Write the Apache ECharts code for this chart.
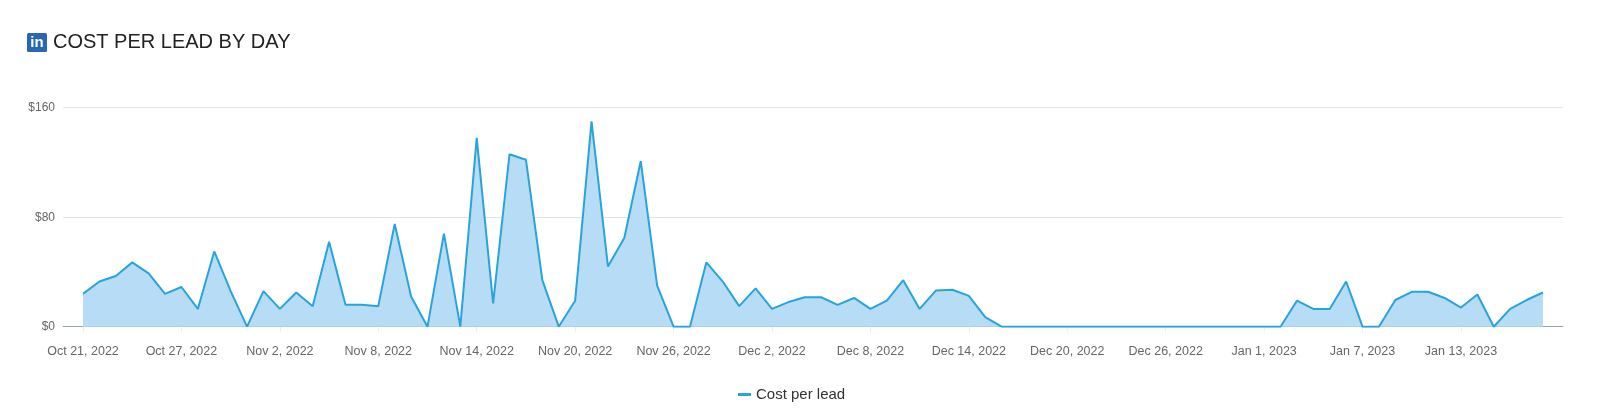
<!DOCTYPE html>
<html>
<head>
<meta charset="utf-8">
<script src="https://cdn.jsdelivr.net/npm/echarts@6/dist/echarts.min.js"></script>
<style>
  html, body { margin: 0; padding: 0; background: #fff; }
  #chart { width: 1600px; height: 412px; }
</style>
</head>
<body>
<div id="chart"></div>
<script>
// Day index 0 = Oct 21, 2022 ... 89 = Jan 18, 2023
const costPerLead = [
  24, 33, 37, 47, 39, 24, 29, 13, 55, 26,
  0, 26, 13, 25, 15, 62, 16, 16, 15, 75,
  22, 0, 68, 0, 138, 17, 126, 122, 34, 0,
  19, 150, 44, 65, 121, 30, 0, 0, 47, 33,
  15, 28, 13, 18, 21.5, 21.5, 16, 21, 13, 19,
  34, 13, 26.5, 27, 22.5, 7, 0, 0, 0, 0,
  0, 0, 0, 0, 0, 0, 0, 0, 0, 0,
  0, 0, 0, 0, 19, 13, 13, 33, 0, 0,
  19.5, 25.5, 25.5, 21, 14, 23.5, 0, 13, 19.5, 25
];
const dayIndex = costPerLead.map((_, i) => i);
const tickDays = [0, 6, 12, 18, 24, 30, 36, 42, 48, 54, 60, 66, 72, 78, 84];
const tickLabels = [
  'Oct 21, 2022', 'Oct 27, 2022', 'Nov 2, 2022', 'Nov 8, 2022', 'Nov 14, 2022',
  'Nov 20, 2022', 'Nov 26, 2022', 'Dec 2, 2022', 'Dec 8, 2022', 'Dec 14, 2022',
  'Dec 20, 2022', 'Dec 26, 2022', 'Jan 1, 2023', 'Jan 7, 2023', 'Jan 13, 2023'
];
const yTicks = [0, 80, 160];
const seriesName = 'Cost per lead';

const FONT = "'Liberation Sans', Arial, Helvetica, sans-serif";
const chart = echarts.init(document.getElementById('chart'), null, { renderer: 'canvas' });

chart.setOption({
  animation: false,
  backgroundColor: '#ffffff',
  title: {
    text: 'COST PER LEAD BY DAY',
    left: 53,
    top: 32,
    padding: 0,
    textStyle: { fontFamily: FONT, fontSize: 20, fontWeight: 'normal', color: '#222222', lineHeight: 20 }
  },
  graphic: [
    {
      type: 'rect',
      x: 27, y: 33,
      shape: { x: 0, y: 0, width: 20, height: 19, r: 1.5 },
      style: { fill: '#2867b2' }
    },
    {
      type: 'text',
      x: 37, y: 43,
      style: {
        text: 'in', fill: '#ffffff', font: "bold 15px " + FONT,
        textAlign: 'center', textVerticalAlign: 'middle'
      }
    }
  ],
  legend: {
    data: [seriesName],
    left: 733,
    top: 382,
    icon: 'rect',
    itemWidth: 13,
    itemHeight: 3,
    textStyle: { fontFamily: FONT, fontSize: 15, color: '#333333' }
  },
  grid: {
    left: 63,
    right: 37,
    top: 107.7,
    bottom: 85.3,
    containLabel: false
  },
  xAxis: {
    type: 'value',
    min: -1.22,
    max: 90.22,
    splitLine: { show: false },
    axisLine: { show: true, lineStyle: { color: '#97a3ab', width: 1 } },
    axisTick: {
      show: true,
      customValues: tickDays,
      length: 5,
      lineStyle: { color: '#ececec' }
    },
    axisLabel: {
      customValues: tickDays,
      margin: 18,
      fontFamily: FONT,
      fontSize: 12.5,
      color: '#666666',
      formatter: function (v) {
        const k = tickDays.indexOf(Math.round(v));
        return k >= 0 ? tickLabels[k] : '';
      }
    }
  },
  yAxis: {
    type: 'value',
    min: yTicks[0],
    max: yTicks[yTicks.length - 1],
    interval: 80,
    axisLine: { show: false },
    axisTick: { show: false },
    splitLine: { show: true, lineStyle: { color: '#e3e3e3', width: 1 } },
    axisLabel: {
      margin: 8,
      fontFamily: FONT,
      fontSize: 12,
      color: '#666666',
      formatter: function (v) { return '$' + v; }
    }
  },
  series: [
    {
      name: seriesName,
      type: 'line',
      data: dayIndex.map((d, i) => [d, costPerLead[i]]),
      symbol: 'none',
      showSymbol: false,
      lineStyle: { color: '#29a3dd', width: 2 },
      itemStyle: { color: '#29a3dd' },
      areaStyle: { color: '#b6ddf5', opacity: 1 },
      z: 3
    }
  ]
});
</script>
</body>
</html>
